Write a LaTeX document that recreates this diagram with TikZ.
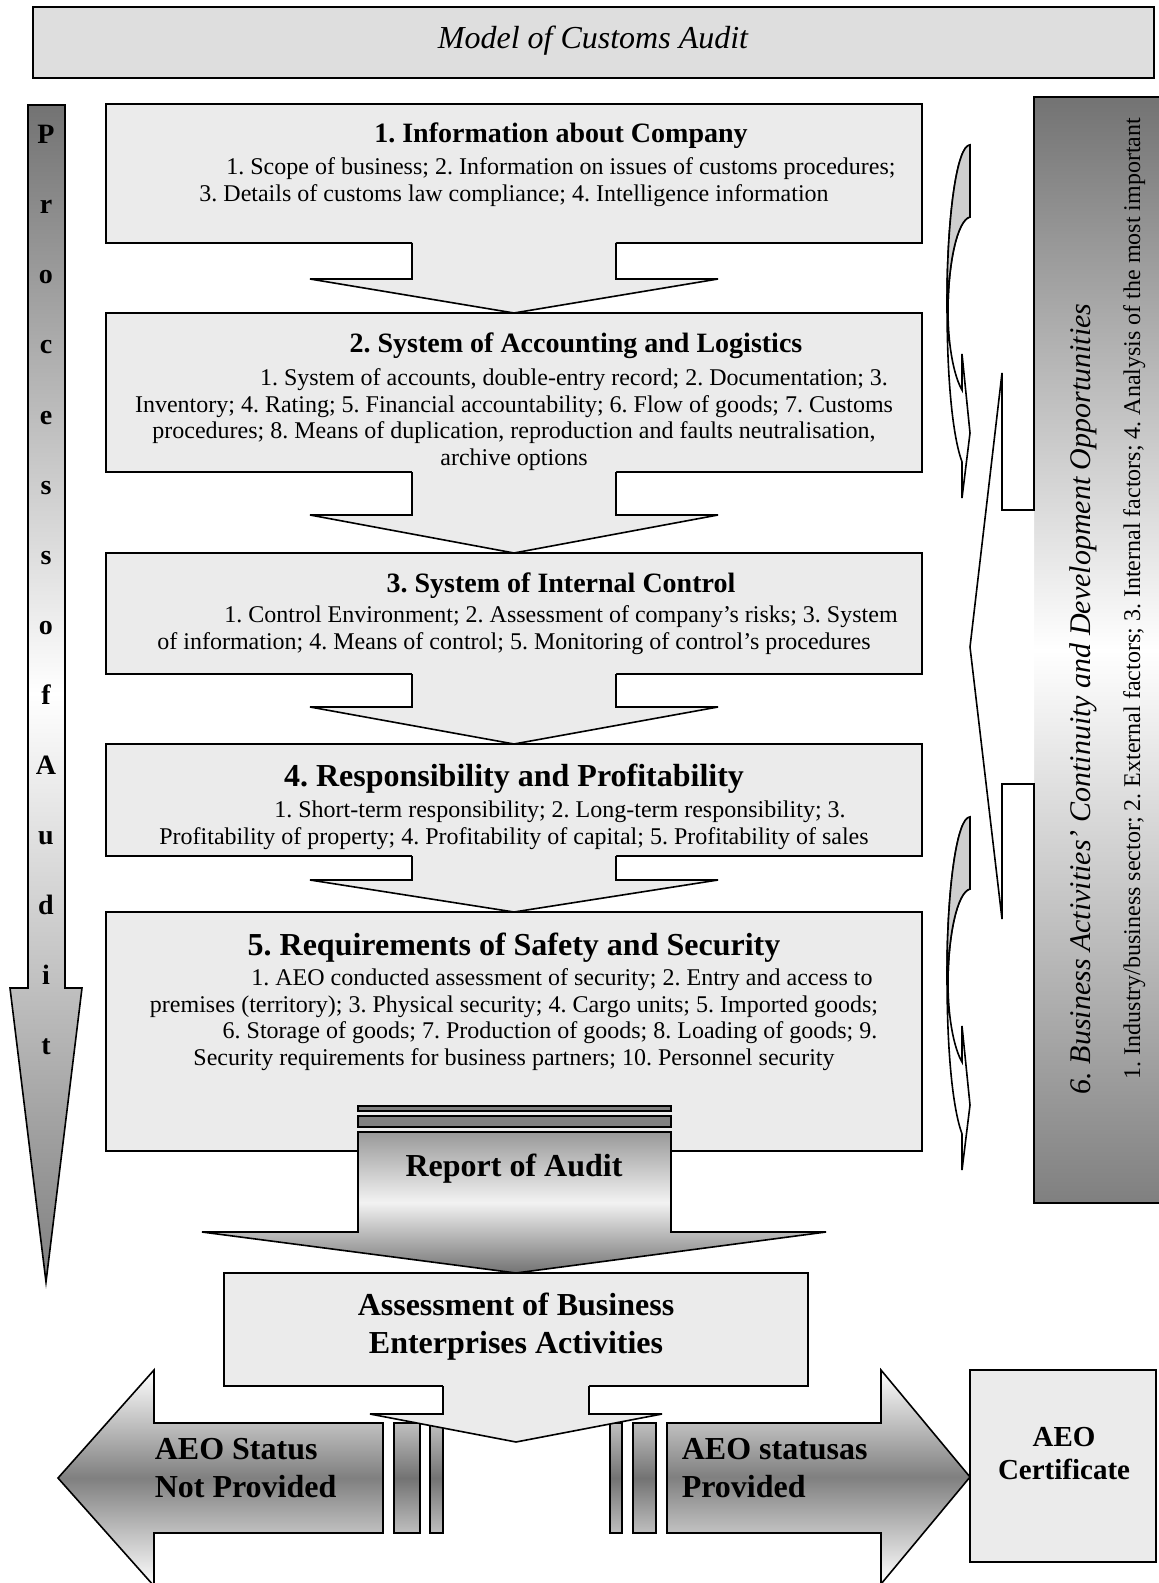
\documentclass[tikz,border=0pt]{standalone}
\usepackage{fontspec}
\setmainfont{Liberation Serif}
\usepackage{tikz}
\usetikzlibrary{calc}
\usetikzlibrary{positioning}

\begin{document}
\frenchspacing
\begin{tikzpicture}[x=0.5pt, y=0.5pt, line width=0.8pt,
  box/.style={draw, fill=black!8, inner sep=0pt, outer sep=0pt, anchor=north west},
  ttl/.style={font=\fontsize{14}{16}\selectfont\bfseries, anchor=base, inner sep=0pt},
  bigttl/.style={font=\fontsize{16}{19}\selectfont\bfseries, inner sep=0pt},
  body/.style={font=\fontsize{12}{13.3}\selectfont, align=center, anchor=north, inner sep=0pt},
  darkshade/.style={top color=black!55, bottom color=black!50, middle color=white},
  aeoshade/.style={top color=white, bottom color=white, middle color=black!50},
  barshade/.style={top color=black!25, bottom color=black!25, middle color=black!55}]

  \useasboundingbox (0,0) rectangle (1158,-1583);

  % heading
  \node[box, fill=black!13, minimum width=560.5pt, minimum height=35.5pt] (head) at (33,-7) {};
  \node[font=\fontsize{16}{19}\selectfont\itshape, inner sep=0pt] (head-t) at (593,-41) {Model of Customs Audit};

  % process arrow
  \draw[darkshade] (28,-105) -- (65,-105) -- (65,-988) -- (82,-988) -- (46,-1282)
    -- (10,-988) -- (28,-988) -- cycle;
  \foreach \c [count=\i from 0] in {P,r,o,c,e,s,s,o,f,A,u,d,i,t} {
    \node[ttl] (pl\i) at (46,{-144-70*\i}) {\c};
  }

  % boxes
  \node[box, minimum width=408pt, minimum height=69.5pt] (info) at (106,-104) {};
  \node[box, minimum width=408pt, minimum height=79.5pt] (acct) at (106,-313) {};
  \node[box, minimum width=408pt, minimum height=60.5pt] (ctrl) at (106,-553) {};
  \node[box, minimum width=408pt, minimum height=56pt] (resp) at (106,-744) {};
  \node[box, minimum width=408pt, minimum height=119.5pt] (safe) at (106,-912) {};

  \foreach \a/\b/\h in {info/acct/17, acct/ctrl/19, ctrl/resp/18.5, resp/safe/16} {
    \fill[black!8] let \p1=(\a.south), \p2=(\b.north) in
      (\x1-51pt,\y1+1pt) -- (\x1-51pt,\y2+\h*1pt) -- (\x1-102pt,\y2+\h*1pt) -- (\x1,\y2)
      -- (\x1+102pt,\y2+\h*1pt) -- (\x1+51pt,\y2+\h*1pt) -- (\x1+51pt,\y1+1pt) -- cycle;
    \draw let \p1=(\a.south), \p2=(\b.north) in
      (\x1-51pt,\y1) -- (\x1-51pt,\y2+\h*1pt) -- (\x1-102pt,\y2+\h*1pt) -- (\x1,\y2)
      -- (\x1+102pt,\y2+\h*1pt) -- (\x1+51pt,\y2+\h*1pt) -- (\x1+51pt,\y1);
  }

  \node[ttl] (info-t) at (561,-143) {1. Information about Company};
  \node[body] (info-b) at (514,-157) {\hspace*{47pt}1. Scope of business; 2. Information on issues of customs procedures;\\
    3. Details of customs law compliance; 4. Intelligence information};

  \node[ttl] (acct-t) at (576,-352) {2. System of Accounting and Logistics};
  \node[body] (acct-b) at (514,-368) {\hspace*{60pt}1. System of accounts, double-entry record; 2. Documentation; 3.\\
    Inventory; 4. Rating; 5. Financial accountability; 6. Flow of goods; 7. Customs\\
    procedures; 8. Means of duplication, reproduction and faults neutralisation,\\
    archive options};

  \node[ttl] (ctrl-t) at (561,-592) {3. System of Internal Control};
  \node[body] (ctrl-b) at (514,-605) {\hspace*{47pt}1. Control Environment; 2. Assessment of company’s risks; 3. System\\
    of information; 4. Means of control; 5. Monitoring of control’s procedures};

  \node[bigttl, anchor=base] (resp-t) at (514,-786) {4. Responsibility and Profitability};
  \node[body] (resp-b) at (514,-800) {\hspace*{46pt}1. Short-term responsibility; 2. Long-term responsibility; 3.\\
    Profitability of property; 4. Profitability of capital; 5. Profitability of sales};

  \node[bigttl, anchor=base] (safe-t) at (514,-955) {5. Requirements of Safety and Security};
  \node[body] (safe-b) at (514,-968) {\hspace*{48pt}1. AEO conducted assessment of security; 2. Entry and access to\\
    premises (territory); 3. Physical security; 4. Cargo units; 5. Imported goods;\\
    \hspace*{36pt}6. Storage of goods; 7. Production of goods; 8. Loading of goods; 9.\\
    Security requirements for business partners; 10. Personnel security};

  % report of audit
  \node[box, minimum width=292pt, minimum height=56.5pt] (assess) at (224,-1273) {};
  \draw[fill=black!50] (358,-1106) rectangle (671,-1111);
  \draw[fill=black!50] (358,-1116) rectangle (671,-1127);
  \draw[top color=black!40, bottom color=black!55, middle color=black!5] (358,-1132) -- (671,-1132)
    -- (671,-1232) -- (826,-1232) -- (assess.north) -- (202,-1232) -- (358,-1232) -- cycle;
  \node[bigttl] (report) at (514,-1169) {Report of Audit};
  \node[bigttl, align=center] (assess-t) at (516,-1327) {Assessment of Business\\Enterprises Activities};

  % status arrows
  \draw[barshade] (394,-1423) rectangle (420,-1533);
  \draw[barshade] (430,-1423) rectangle (443,-1533);
  \draw[barshade] (610,-1423) rectangle (622,-1533);
  \draw[barshade] (633,-1423) rectangle (656,-1533);

  \fill[black!8] let \p1=(assess.south) in
    (\x1-36.5pt,\y1+1pt) -- (\x1-36.5pt,\y1-14pt) -- (\x1-73pt,\y1-14pt) -- (\x1,\y1-28pt)
    -- (\x1+73pt,\y1-14pt) -- (\x1+36.5pt,\y1-14pt) -- (\x1+36.5pt,\y1+1pt) -- cycle;
  \draw let \p1=(assess.south) in
    (\x1-36.5pt,\y1) -- (\x1-36.5pt,\y1-14pt) -- (\x1-73pt,\y1-14pt) -- (\x1,\y1-28pt)
    -- (\x1+73pt,\y1-14pt) -- (\x1+36.5pt,\y1-14pt) -- (\x1+36.5pt,\y1);

  \draw[aeoshade] (383,-1423) -- (154,-1423) -- (154,-1370) -- (58,-1478) -- (154,-1586)
    -- (154,-1533) -- (383,-1533) -- cycle;
  \draw[aeoshade] (667,-1423) -- (881,-1423) -- (881,-1370) -- (970,-1477) -- (881,-1584)
    -- (881,-1533) -- (667,-1533) -- cycle;
  \node[bigttl, align=left, anchor=west] (no-t) at (154,-1468) {AEO Status\\Not Provided};
  \node[bigttl, align=left, anchor=west] (yes-t) at (681,-1468) {AEO statusas\\Provided};

  \node[box, minimum width=93pt, minimum height=96pt] (cert) at (970,-1370) {};
  \node[font=\fontsize{14.5}{16.5}\selectfont\bfseries, align=center, inner sep=0pt] (cert-t) at (1064,-1454) {AEO\\Certificate};

  % continuity panel
  \shade[darkshade] (1034,-97) rectangle (1160,-1203);
  \fill[white] (1034,-510) -- (1002,-510) -- (1002,-373) -- (970,-647) -- (1002,-919)
    -- (1002,-784) -- (1034,-784) -- cycle;
  \draw (1034,-97) -- (1160,-97) -- (1160,-1203) -- (1034,-1203) -- (1034,-784) -- (1002,-784)
    -- (1002,-919) -- (970,-647) -- (1002,-373) -- (1002,-510) -- (1034,-510) -- cycle;
  \node[font=\fontsize{15}{18}\selectfont\itshape, rotate=90, anchor=base west, inner sep=0pt] (pnl-t)
    at (1090,-1095) {6. Business Activities’ Continuity and Development Opportunities};
  \node[font=\fontsize{12}{14}\selectfont, rotate=90, anchor=base west, inner sep=0pt] (pnl-l)
    at (1140,-1080) {1. Industry/business sector; 2. External factors; 3. Internal factors; 4. Analysis of the most important};

  % curved arrows
  \foreach \dy in {0,672} {
    \begin{scope}[shift={(0,-\dy)}]
      \draw[fill=white] (970,-145) .. controls (957,-145) and (947,-216) .. (947,-303)
        .. controls (947,-390) and (954,-440) .. (962,-462) -- (962,-498) -- (970,-433)
        -- (962,-354) -- (962,-390) .. controls (955,-378) and (948,-350) .. (948,-310)
        .. controls (948,-265) and (957,-220) .. (970,-217) -- cycle;
      \draw[fill=black!19] (970,-145) .. controls (957,-145) and (947,-216) .. (947,-303)
        -- (948,-310) .. controls (948,-265) and (957,-220) .. (970,-217) -- cycle;
    \end{scope}
  }

\end{tikzpicture}
\end{document}
